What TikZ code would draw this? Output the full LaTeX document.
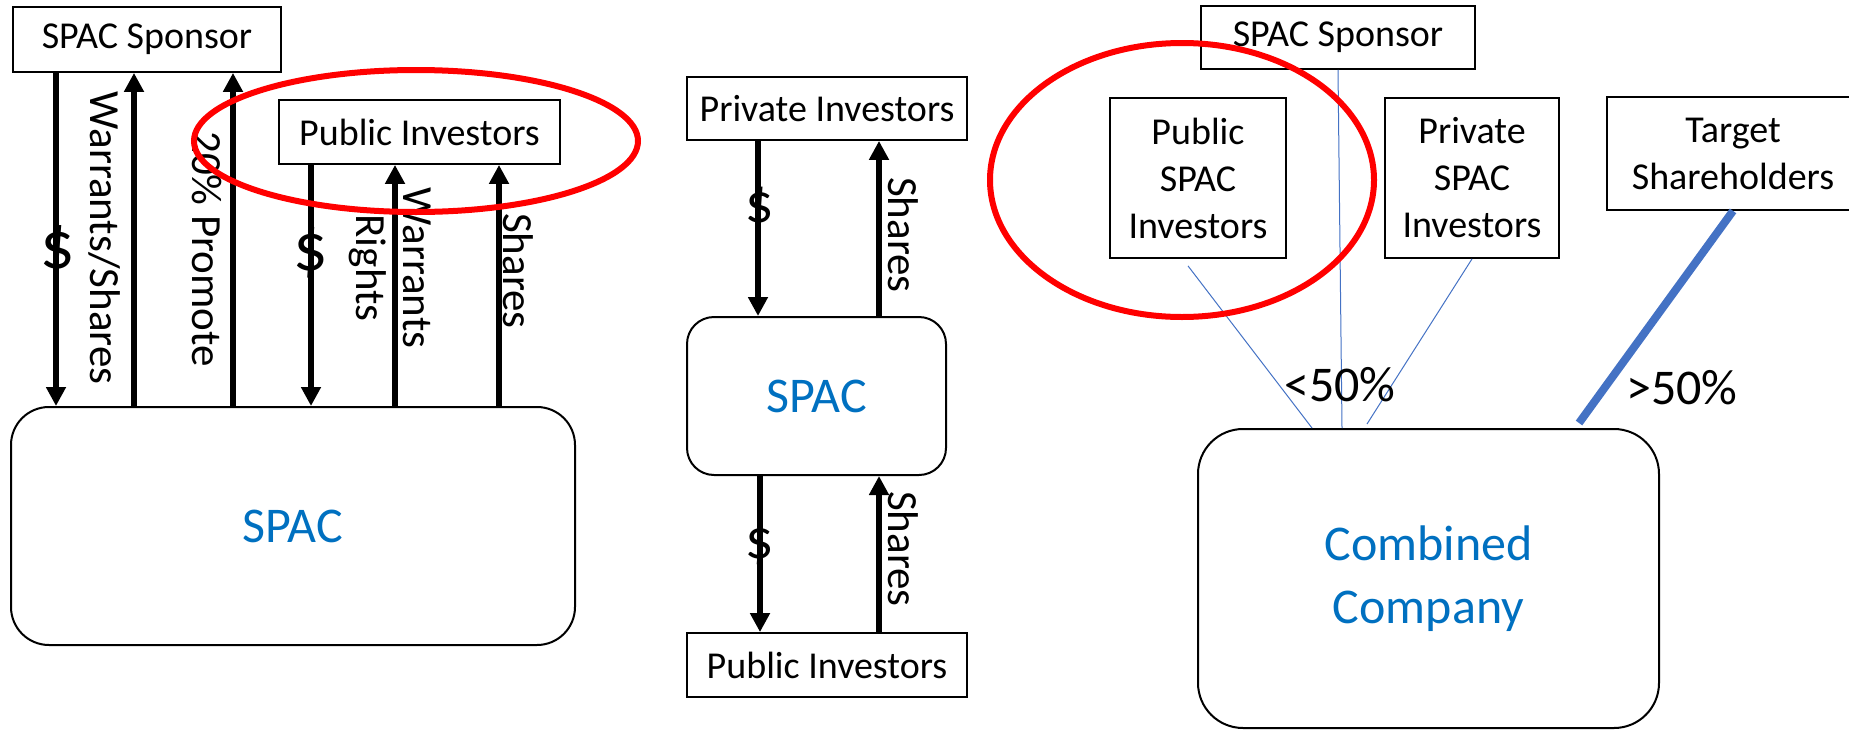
\documentclass[tikz,border=0pt]{standalone}
\usepackage{fontspec}
\setmainfont{Carlito}
\usetikzlibrary{arrows.meta,calc}
\definecolor{spacblue}{HTML}{0070C0}
\definecolor{linkblue}{HTML}{4472C4}
\definecolor{ringred}{HTML}{FF0000}

\begin{document}
\begin{tikzpicture}[x=1pt,y=-1pt,
  box/.style={draw=black, line width=1.8pt, inner sep=0pt, align=center,
    font=\fontsize{38}{47}\selectfont},
  rbox/.style={draw=black, line width=2pt, inner sep=0pt, align=center,
    text=spacblue, font=\fontsize{50}{63}\selectfont},
  flow/.style={line width=6pt, -{Triangle[width=19pt,length=19pt]}},
  lbl/.style={font=\fontsize{43}{47}\selectfont, inner sep=0pt, rotate=-90, align=center},
  dollar/.style={font=\fontsize{68}{68}\selectfont, inner sep=0pt},
  dollarm/.style={font=\fontsize{56}{56}\selectfont, inner sep=0pt},
  ring/.style={draw=ringred, line width=6pt},
  thin/.style={draw=linkblue, line width=1pt},
  pct/.style={font=\fontsize{50}{60}\selectfont, inner sep=0pt}]

\useasboundingbox (0,0) rectangle (1849,731);

% ---------- left panel: SPAC formation ----------
\node[box, minimum width=268pt, minimum height=65pt] (sponsorL) at (147,39.5) {SPAC Sponsor};
\node[box, minimum width=281pt, minimum height=64pt] (pubL) at (419.5,132) {Public Investors};
\node[rbox, rounded corners=38pt, minimum width=564pt, minimum height=238pt] (spacL) at (293,526) {SPAC};

\draw[flow] (sponsorL.south -| 56,0) -- (spacL.north -| 56,0);
\draw[flow] (spacL.north -| 134,0) -- (sponsorL.south -| 134,0);
\draw[flow] (spacL.north -| 233,0) -- (sponsorL.south -| 233,0);
\draw[flow] (pubL.south -| 311,0) -- (spacL.north -| 311,0);
\draw[flow] (spacL.north -| 395,0) -- (pubL.south -| 395,0);
\draw[flow] (spacL.north -| 499,0) -- (pubL.south -| 499,0);

\node[dollar] (d1) at (58,251) {\$};
\node[lbl] (ws) at (105,238) {Warrants/Shares};
\node[lbl] (promo) at (207,249) {20\% Promote};
\node[dollar] (d2) at (311,253) {\$};
\node[lbl] (wr) at (390,268) {Warrants\\Rights};
\node[lbl] (sh1) at (518,271) {Shares};

% ---------- middle panel: private placement ----------
\node[box, minimum width=280pt, minimum height=63pt] (privM) at (827,108.5) {Private Investors};
\node[rbox, rounded corners=27pt, minimum width=259pt, minimum height=158pt] (spacM) at (816.5,396) {SPAC};
\node[box, minimum width=280pt, minimum height=64pt] (pubM) at (827,665) {Public Investors};

\draw[flow] (privM.south -| 758,0) -- (spacM.north -| 758,0);
\draw[flow] (spacM.north -| 879,0) -- (privM.south -| 879,0);
\draw[flow] (spacM.south -| 760,0) -- (pubM.north -| 760,0);
\draw[flow] (pubM.north -| 879,0) -- (spacM.south -| 879,0);

\node[dollarm] (d3) at (760,208) {\$};
\node[lbl] (sh2) at (903,235) {Shares};
\node[dollarm] (d4) at (760,544) {\$};
\node[lbl] (sh3) at (903,549) {Shares};

% ---------- right panel: combined company ----------
\node[box, minimum width=274pt, minimum height=63pt] (sponsorR) at (1338,37.5) {SPAC Sponsor};
\node[box, minimum width=176pt, minimum height=160pt] (pubR) at (1198,178) {Public\\SPAC\\Investors};
\node[box, minimum width=174pt, minimum height=160pt] (privR) at (1472,178) {Private\\SPAC\\Investors};
\node[box, minimum width=252pt, minimum height=113pt] (targetR) at (1733,153.5) {Target\\Shareholders};
\node[rbox, rounded corners=45pt, minimum width=461pt, minimum height=299pt] (combo) at (1428.5,578.5) {Combined\\Company};

\draw[thin] ([shift={(-10,7)}]pubR.south) -- (combo.north -| 1312,0);
\draw[thin] (sponsorR.south) -- (combo.north -| 1342,0);
\draw[thin] (privR.south) -- ($(combo.north -| 1367,0)+(0,-4)$);
\draw[draw=linkblue, line width=8pt] (targetR.south) -- ($(combo.north -| 1579,0)+(0,-5)$);

\node[pct] (lt) at (1340,385) {<50\%};
\node[pct] (gt) at (1682,388) {>50\%};

% ---------- highlight rings ----------
\draw[ring] (416,141) ellipse [x radius=222pt, y radius=71pt];
\draw[ring] (1182,180) ellipse [x radius=192pt, y radius=137pt];
\end{tikzpicture}
\end{document}
